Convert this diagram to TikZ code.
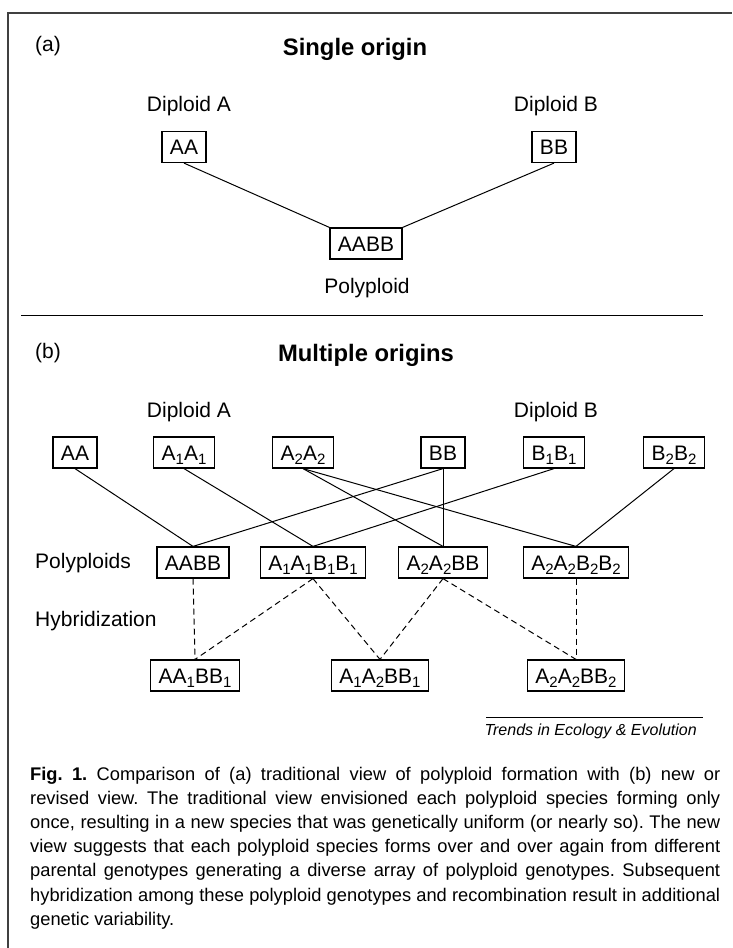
\documentclass[tikz,border=0pt]{standalone}
\usepackage{fontspec}
\setmainfont{Liberation Sans}
\newcommand{\gsub}[1]{\raisebox{-4pt}{\fontsize{15}{15}\selectfont #1}}
\begin{document}
\frenchspacing
\begin{tikzpicture}[x=1pt,y=-1pt,
  box/.style={draw, line width=1.2pt, font=\fontsize{21}{25}\selectfont, inner xsep=8pt, inner ysep=0pt, text height=19pt, text depth=4pt, minimum height=31pt},
  lbl/.style={font=\fontsize{21}{25}\selectfont, inner sep=0pt},
  head/.style={font=\bfseries\fontsize{23.8}{27}\selectfont, inner sep=0pt},
  link/.style={line width=1pt},
  hyb/.style={line width=1pt, dash pattern=on 6pt off 4pt},
  rule/.style={line width=1pt},
  frame/.style={line width=1.3pt, black!75}]
\useasboundingbox (0,0) rectangle (732,948);
\fill[white] (0,0) rectangle (732,948);
% frame
\draw[frame] (8,948) -- (8,13) -- (732,13);

% ---------- (a) ----------
\node[lbl, anchor=base west] (la) at (35,51) {(a)};
\node[head, anchor=base] (ha) at (355,55) {Single origin};
\node[lbl, anchor=base] (dAa) at (189,111) {Diploid A};
\node[lbl, anchor=base] (dBa) at (556,111) {Diploid B};
\node[box] (aAA) at (184,147) {AA};
\node[box] (aBB) at (554,147) {BB};
\node[box] (aAABB) at (366,243.5) {AABB};
\node[lbl, anchor=base] (poly) at (367,293) {Polyploid};
\draw[link] (aAA.south) -- (aAABB.north west);
\draw[link] (aBB.south) -- (aAABB.north east);

\draw[rule] (21,315) -- (703,315);

% ---------- (b) ----------
\node[lbl, anchor=base west] (lb) at (35,358) {(b)};
\node[head, anchor=base] (hb) at (366,361) {Multiple origins};
\node[lbl, anchor=base] (dAb) at (189,417) {Diploid A};
\node[lbl, anchor=base] (dBb) at (556,417) {Diploid B};

\node[box] (tAA) at (75,452.5) {AA};
\node[box] (tA1) at (184,452.5) {A\gsub{1}A\gsub{1}};
\node[box] (tA2) at (303,452.5) {A\gsub{2}A\gsub{2}};
\node[box] (tBB) at (443,452.5) {BB};
\node[box] (tB1) at (554,452.5) {B\gsub{1}B\gsub{1}};
\node[box] (tB2) at (674,452.5) {B\gsub{2}B\gsub{2}};

\node[lbl, anchor=base west] (lpoly) at (35,568) {Polyploids};
\node[box] (pAABB) at (193,562.5) {AABB};
\node[box] (pA1B1) at (313,562.5) {A\gsub{1}A\gsub{1}B\gsub{1}B\gsub{1}};
\node[box] (pA2BB) at (443,562.5) {A\gsub{2}A\gsub{2}BB};
\node[box] (pA2B2) at (576,562.5) {A\gsub{2}A\gsub{2}B\gsub{2}B\gsub{2}};

\node[lbl, anchor=base west] (lhyb) at (35,626) {Hybridization};
\node[box] (hA) at (195,675.5) {AA\gsub{1}BB\gsub{1}};
\node[box] (hB) at (380,675.5) {A\gsub{1}A\gsub{2}BB\gsub{1}};
\node[box] (hC) at (576,675.5) {A\gsub{2}A\gsub{2}BB\gsub{2}};

% solid connectors
\draw[link] (tAA.south) -- (pAABB.north);
\draw[link] (tA1.south) -- (pA1B1.north);
\draw[link] (tA2.south) -- (pA2BB.north);
\draw[link] (tA2.south) -- (pA2B2.north);
\draw[link] (tBB.south) -- (pAABB.north);
\draw[link] (tBB.south) -- (pA2BB.north);
\draw[link] (tB1.south) -- (pA1B1.north);
\draw[link] (tB2.south) -- (pA2B2.north);

% dashed connectors
\draw[hyb] (pAABB.south) -- (hA.north);
\draw[hyb] (pA1B1.south) -- (hA.north);
\draw[hyb] (pA1B1.south) -- (hB.north);
\draw[hyb] (pA2BB.south) -- (hB.north);
\draw[hyb] (pA2BB.south) -- (hC.north);
\draw[hyb] (pA2B2.south) -- (hC.north);

% source line
\draw[rule] (486,717) -- (703,717);
\node[anchor=base east, inner sep=0pt, font=\itshape\fontsize{16}{18}\selectfont] (src) at (697,735) {Trends in Ecology \& Evolution};

% caption
\node[anchor=base west, inner sep=0pt, font=\fontsize{18.3}{24.2}\selectfont] (cap) at (30,780) {\parbox[t]{690pt}{\frenchspacing
\makebox[690pt][s]{\textbf{Fig. 1.} Comparison of (a) traditional view of polyploid formation with (b) new or}\\
\makebox[690pt][s]{revised view. The traditional view envisioned each polyploid species forming only}\\
\makebox[690pt][s]{once, resulting in a new species that was genetically uniform (or nearly so). The new}\\
\makebox[690pt][s]{view suggests that each polyploid species forms over and over again from different}\\
\makebox[690pt][s]{parental genotypes generating a diverse array of polyploid genotypes. Subsequent}\\
\makebox[690pt][s]{hybridization among these polyploid genotypes and recombination result in additional}\\
\makebox[690pt][l]{genetic variability.}}};
\end{tikzpicture}
\end{document}
